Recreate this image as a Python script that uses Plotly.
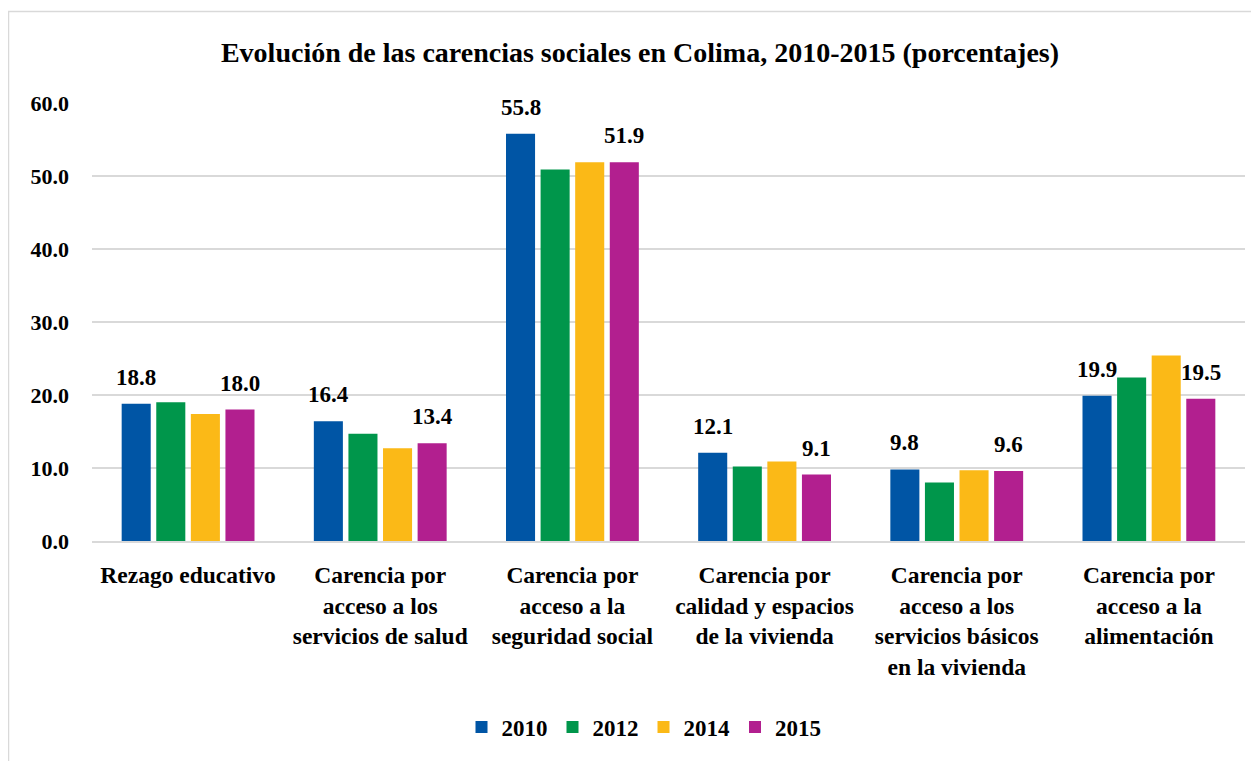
import plotly.graph_objects as go

categories = [
    "Rezago educativo",
    "Carencia por<br>acceso a los<br>servicios de salud",
    "Carencia por<br>acceso a la<br>seguridad social",
    "Carencia por<br>calidad y espacios<br>de la vivienda",
    "Carencia por<br>acceso a los<br>servicios básicos<br>en la vivienda",
    "Carencia por<br>acceso a la<br>alimentación",
]
years = ["2010", "2012", "2014", "2015"]
v2010 = [18.8, 16.4, 55.8, 12.1, 9.8, 19.9]
v2012 = [19.0, 14.7, 50.9, 10.2, 8.0, 22.4]
v2014 = [17.4, 12.7, 51.9, 10.9, 9.7, 25.4]
v2015 = [18.0, 13.4, 51.9, 9.1, 9.6, 19.5]
labeled_years = ["2010", "2015"]
colors = ["#0055A5", "#00964B", "#FBB917", "#B21F8F"]

FONT = "Liberation Serif, Times New Roman, serif"

# page body has an 8px default margin; work in screen pixels and offset
OFF = 8
SW, SH = 1259, 761
W, H = SW - OFF, SH - OFF
X0, X1, Y0, Y1 = 92, 1245, 103, 541
L, R, T, B = X0 - OFF, SW - X1, Y0 - OFF, SH - Y1
pw, ph = X1 - X0, Y1 - Y0
BARGAP, GROUPGAP = 0.28, 0.16

def px(x):
    return (x - X0) / pw

def py(y):
    return (Y1 - y) / ph

series = [v2010, v2012, v2014, v2015]
fig = go.Figure()
for yr, vals, col in zip(years, series, colors):
    fig.add_trace(go.Bar(
        name=yr, x=categories, y=vals, marker_color=col,
        marker_line_width=0, cliponaxis=False,
    ))

# value labels above the 2010 and 2015 bars (offset within each group)
cat_px = pw / len(categories)
slot = cat_px * (1 - BARGAP) / len(years)
for i, (yr, vals) in enumerate(zip(years, series)):
    if yr not in labeled_years:
        continue
    shift = (i - (len(years) - 1) / 2) * slot
    for c, v in zip(categories, vals):
        fig.add_annotation(x=c, y=v, text=f"{v:.1f}", showarrow=False,
                           xshift=shift, yshift=12, yanchor="bottom",
                           font=dict(family=FONT, size=23, color="black", weight="bold"))

fig.add_shape(type="rect", xref="paper", yref="paper",
              x0=px(8.5), x1=px(1258), y0=py(775), y1=py(11.5),
              line=dict(color="#D9D9D9", width=1.5), fillcolor="rgba(0,0,0,0)", layer="below")

fig.update_layout(
    width=W, height=H,
    margin=dict(l=L, r=R, t=T, b=B),
    paper_bgcolor="white", plot_bgcolor="white",
    title=dict(text="Evolución de las carencias sociales en Colima, 2010-2015 (porcentajes)",
               x=(640 - OFF) / W, xanchor="center", y=1 - (52 - OFF) / H, yanchor="middle",
               font=dict(family=FONT, size=28, color="black", weight="bold")),
    barmode="group", bargap=BARGAP, bargroupgap=GROUPGAP,
    font=dict(family=FONT, color="black"),
    xaxis=dict(tickfont=dict(family=FONT, size=23.5, color="black", weight="bold"),
               showline=True, linecolor="#D9D9D9", linewidth=1.5, ticks="",
               ticklabelstandoff=12),
    yaxis=dict(range=[0, 60], dtick=10, tickformat=".1f",
               tickfont=dict(family=FONT, size=22, color="black", weight="bold"),
               gridcolor="#D9D9D9", gridwidth=1.5, zeroline=False, ticklabelstandoff=22),
    legend=dict(orientation="h", x=(644 - OFF) / W, xref="container", xanchor="center",
                y=1 - (727 - OFF) / H, yref="container", yanchor="middle",
                font=dict(family=FONT, size=23, color="black", weight="bold"),
                itemwidth=30, traceorder="normal"),
)

fig.write_html("out.html")
